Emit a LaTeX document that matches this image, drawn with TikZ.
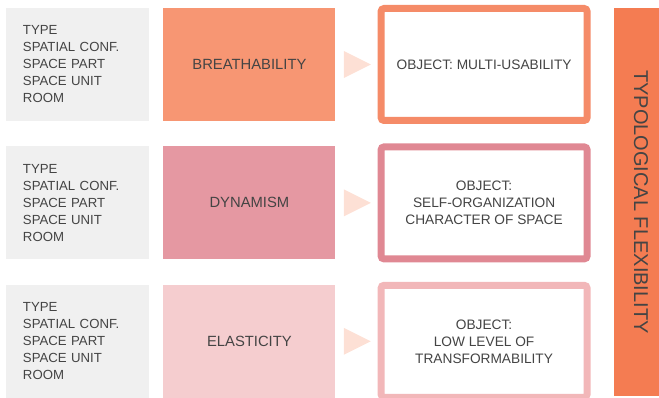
\documentclass[tikz,border=0pt]{standalone}
\usepackage{fontspec}
\setmainfont{Liberation Sans}
\usepackage{xcolor}
\usetikzlibrary{positioning,calc,shapes.geometric}
\definecolor{levelgray}{HTML}{F0F0F0}
\definecolor{breathfill}{HTML}{F79673}
\definecolor{breathline}{HTML}{F58B68}
\definecolor{dynfill}{HTML}{E598A2}
\definecolor{dynline}{HTML}{E08893}
\definecolor{elastfill}{HTML}{F5CDCF}
\definecolor{elastline}{HTML}{F2B7B9}
\definecolor{pointerfill}{HTML}{FDE0D5}
\definecolor{barfill}{HTML}{F47C52}
\definecolor{txt}{HTML}{444444}
\tikzset{
  levelbox/.style={fill=levelgray, minimum width=143pt, minimum height=113pt,
    text width=109pt, inner xsep=17pt, align=left, text=txt,
    font=\fontsize{13.2}{17}\selectfont},
  qualbox/.style={minimum width=172pt, minimum height=113pt, align=center,
    text=txt, font=\fontsize{14.8}{18}\selectfont},
  objbox/.style={draw, line width=7pt, rounded corners=3pt, fill=white,
    minimum width=206pt, minimum height=112pt, align=center, text=txt,
    font=\fontsize{13.7}{17}\selectfont},
  pointer/.style={isosceles triangle, isosceles triangle stretches,
    fill=pointerfill, minimum width=27pt, minimum height=27pt, inner sep=0pt},
  typebar/.style={fill=barfill, rotate=-90, minimum width=388pt,
    minimum height=45pt, text depth=9pt, text=txt,
    font=\fontsize{20}{24}\selectfont}
}
\newcommand{\levels}{TYPE\\SPATIAL CONF.\\SPACE PART\\SPACE UNIT\\ROOM}

\begin{document}
\begin{tikzpicture}[x=1pt, y=1pt, node distance=25pt and 14pt]
  \useasboundingbox (0,0) rectangle (659,398);

  % spatial levels
  \node[levelbox] (lev1) at (77.5,333.5) {\levels};
  \node[levelbox, below=of lev1] (lev2) {\levels};
  \node[levelbox, below=of lev2] (lev3) {\levels};

  % qualities
  \node[qualbox, fill=breathfill, right=of lev1] (qual1) {BREATHABILITY};
  \node[qualbox, fill=dynfill, right=of lev2] (qual2) {DYNAMISM};
  \node[qualbox, fill=elastfill, right=of lev3] (qual3) {ELASTICITY};

  % objects
  \node[objbox, draw=breathline, right=42pt of qual1] (obj1)
    {OBJECT: MULTI-USABILITY};
  \node[objbox, draw=dynline, right=42pt of qual2] (obj2)
    {OBJECT:\\SELF-ORGANIZATION\\CHARACTER OF SPACE};
  \node[objbox, draw=elastline, right=42pt of qual3] (obj3)
    {OBJECT:\\LOW LEVEL OF\\TRANSFORMABILITY};

  \foreach \n in {1,2,3}
    \node[pointer, right=8pt of qual\n] (ptr\n) {};

  \node[typebar] (flex) at (636.5,196) {TYPOLOGICAL FLEXIBILITY};
\end{tikzpicture}
\end{document}
